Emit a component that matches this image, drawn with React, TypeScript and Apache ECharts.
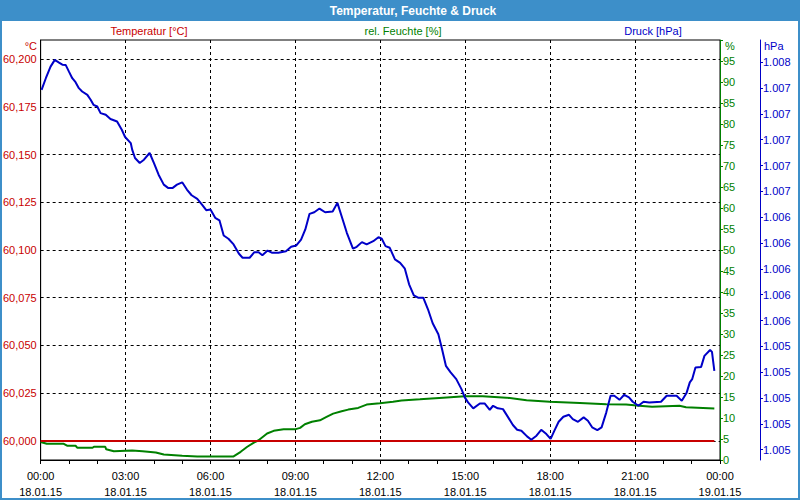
import React, { useEffect, useRef } from "react";
import * as echarts from "echarts";

const chartTitle = "Temperatur, Feuchte & Druck";
const seriesNames = ["Temperatur [°C]", "rel. Feuchte [%]", "Druck [hPa]"];
const unitLabels = ["°C", "%", "hPa"];
const startDate = "18.01.15";
const endDate = "19.01.15";

const temperatureTimes = ["00:00", "23:48"];
const temperatureValues = [60.0, 60.0];

const humidityTimes = [
  "00:00", "00:13", "00:49", "00:56", "01:14", "01:18", "01:50", "01:53", "02:17", "02:19",
  "02:35", "03:14", "03:36", "04:04", "04:21", "05:00", "05:32", "06:49", "07:04", "07:18",
  "07:32", "07:42", "08:00", "08:14", "08:35", "08:59", "09:10", "09:20", "09:35", "09:52",
  "10:06", "10:20", "10:38", "10:52", "11:13", "11:31", "11:59", "12:27", "12:45", "13:24",
  "14:13", "14:59", "15:37", "16:27", "17:10", "17:59", "19:03", "19:59", "20:41", "21:09",
  "21:36", "22:34", "22:48", "23:48",
];
const humidityValues = [
  4.3, 3.85, 3.85, 3.4, 3.4, 2.9, 2.9, 3.15, 3.15, 2.55,
  2.1, 2.25, 2.1, 1.8, 1.3, 1.0, 0.85, 0.85, 1.95, 3.15,
  4.15, 4.7, 6.3, 6.95, 7.3, 7.3, 7.65, 8.5, 9.1, 9.45,
  10.25, 11.05, 11.6, 12.0, 12.4, 13.2, 13.5, 13.85, 14.15, 14.45,
  14.85, 15.15, 15.15, 14.85, 14.2, 13.85, 13.6, 13.25, 13.2, 12.9,
  12.65, 12.9, 12.55, 12.25,
];

const pressureTimes = [
  "00:02", "00:11", "00:21", "00:30", "00:39", "00:46", "00:53", "01:00", "01:07", "01:14",
  "01:21", "01:28", "01:39", "01:46", "01:52", "02:00", "02:07", "02:18", "02:28", "02:42",
  "02:52", "02:59", "03:11", "03:14", "03:20", "03:30", "03:39", "03:51", "04:00", "04:10",
  "04:21", "04:30", "04:40", "04:49", "05:00", "05:10", "05:20", "05:32", "05:42", "05:51",
  "06:00", "06:10", "06:19", "06:28", "06:38", "06:49", "07:00", "07:08", "07:23", "07:33",
  "07:42", "07:50", "08:01", "08:10", "08:24", "08:40", "08:51", "09:02", "09:12", "09:21",
  "09:30", "09:40", "09:51", "10:03", "10:19", "10:29", "10:38", "10:49", "11:02", "11:10",
  "11:21", "11:31", "11:45", "11:56", "12:03", "12:11", "12:20", "12:31", "12:42", "12:52",
  "13:01", "13:11", "13:20", "13:31", "13:41", "13:51", "14:03", "14:10", "14:19", "14:29",
  "14:41", "14:52", "14:59", "15:06", "15:17", "15:31", "15:41", "15:52", "15:59", "16:09",
  "16:20", "16:31", "16:41", "16:50", "16:59", "17:11", "17:20", "17:31", "17:41", "17:52",
  "18:01", "18:09", "18:18", "18:28", "18:40", "18:48", "18:59", "19:11", "19:20", "19:29",
  "19:40", "19:49", "19:59", "20:08", "20:16", "20:27", "20:37", "20:47", "20:55", "21:07",
  "21:18", "21:30", "21:55", "22:07", "22:28", "22:39", "22:49", "22:56", "23:01", "23:08",
  "23:20", "23:27", "23:39", "23:43", "23:48",
];
const pressureValues = [
  1007.386, 1007.476, 1007.566, 1007.618, 1007.597, 1007.581, 1007.579, 1007.527, 1007.476, 1007.445,
  1007.399, 1007.373, 1007.347, 1007.309, 1007.27, 1007.257, 1007.206, 1007.193, 1007.16, 1007.141,
  1007.077, 1007.021, 1006.974, 1006.923, 1006.858, 1006.82, 1006.845, 1006.897, 1006.82, 1006.729,
  1006.652, 1006.627, 1006.627, 1006.652, 1006.67, 1006.614, 1006.57, 1006.542, 1006.498, 1006.454,
  1006.459, 1006.395, 1006.376, 1006.258, 1006.233, 1006.189, 1006.119, 1006.086, 1006.086, 1006.129,
  1006.129, 1006.106, 1006.142, 1006.125, 1006.125, 1006.137, 1006.171, 1006.181, 1006.227, 1006.305,
  1006.426, 1006.438, 1006.467, 1006.438, 1006.444, 1006.511, 1006.407, 1006.279, 1006.156, 1006.171,
  1006.207, 1006.189, 1006.214, 1006.245, 1006.233, 1006.176, 1006.163, 1006.073, 1006.047, 1006.001,
  1005.88, 1005.795, 1005.777, 1005.777, 1005.687, 1005.579, 1005.494, 1005.391, 1005.249, 1005.198,
  1005.146, 1005.069, 1005.005, 1004.966, 1004.92, 1004.958, 1004.958, 1004.909, 1004.94, 1004.92,
  1004.914, 1004.85, 1004.791, 1004.754, 1004.747, 1004.703, 1004.677, 1004.708, 1004.754, 1004.721,
  1004.683, 1004.747, 1004.816, 1004.855, 1004.87, 1004.837, 1004.816, 1004.85, 1004.824, 1004.773,
  1004.752, 1004.773, 1004.889, 1005.017, 1005.017, 1004.986, 1005.025, 1005.005, 1004.971, 1004.94,
  1004.971, 1004.966, 1004.971, 1005.017, 1005.017, 1004.978, 1005.038, 1005.121, 1005.146, 1005.236,
  1005.241, 1005.326, 1005.372, 1005.357, 1005.21,
];

const temperatureTicks = [60.0, 60.025, 60.05, 60.075, 60.1, 60.125, 60.15, 60.175, 60.2];
const pressureTicks = [
  1004.6, 1004.8, 1005.0, 1005.2, 1005.4, 1005.6, 1005.8, 1006.0,
  1006.2, 1006.4, 1006.6, 1006.8, 1007.0, 1007.2, 1007.4, 1007.6,
];

const FONT = '"Liberation Sans", Arial, sans-serif';
const RED = "#C80000";
const GREEN = "#008000";
const BLUE = "#0000C8";
const FRAME = "#3D8FC9";

const toHours = (t: string) => {
  const [h, m] = t.split(":").map(Number);
  return h + m / 60;
};
const pairs = (times: string[], values: number[]) => times.map((t, i) => [toHours(t), values[i]]);
const pad = (n: number) => String(n).padStart(2, "0");

export default function App() {
  const ref = useRef<HTMLDivElement>(null);
  useEffect(() => {
    if (!ref.current) return;
    const chart = echarts.init(ref.current, undefined, { renderer: "svg" });
    const dash = { color: "#000", width: 1, type: [3, 3] as any };
    chart.setOption({
      animation: false,
      backgroundColor: "#FFFFFF",
      textStyle: { fontFamily: FONT },
      grid: {
        left: 40, right: 80, top: 40, bottom: 39,
        show: true, borderColor: "#000", borderWidth: 1, backgroundColor: "#FFFFFF",
      },
      xAxis: {
        type: "value", min: 0, max: 24, interval: 3,
        axisLine: { show: true, lineStyle: { color: "#000", width: 1 } },
        axisTick: { show: true, length: 4, lineStyle: { color: "#000" } },
        minorTick: { show: true, splitNumber: 3, length: 4, lineStyle: { color: "#000" } },
        splitLine: { show: true, lineStyle: dash },
        axisLabel: {
          showMinLabel: true, showMaxLabel: true,
          color: "#000", fontSize: 11, fontFamily: FONT, lineHeight: 16, margin: 8,
          formatter: (v: number) => `${pad(v % 24)}:00\n${v >= 24 ? endDate : startDate}`,
        },
      },
      yAxis: [
        {
          type: "value", position: "left", min: 59.99, max: 60.21,
          axisLine: { show: true, lineStyle: { color: "#000" } },
          axisTick: { show: false, customValues: temperatureTicks },
          axisLabel: {
            customValues: temperatureTicks, color: RED, fontSize: 11, fontFamily: FONT, margin: 4,
            formatter: (v: number) => v.toFixed(3).replace(".", ","),
          },
          splitLine: { show: true, lineStyle: dash },
        },
        {
          type: "value", position: "right", min: 0, max: 100, interval: 5,
          axisLine: { show: true, lineStyle: { color: GREEN } },
          axisTick: { show: true, length: 3, lineStyle: { color: GREEN } },
          axisLabel: {
            color: GREEN, fontSize: 11, fontFamily: FONT, margin: 3,
            formatter: (v: number) => (v >= 100 ? "" : String(v)),
          },
          splitLine: { show: false },
        },
        {
          type: "value", position: "right", offset: 40, min: 1004.52, max: 1007.772,
          axisLine: { show: true, lineStyle: { color: BLUE } },
          axisTick: { show: true, length: 3, customValues: pressureTicks, lineStyle: { color: BLUE } },
          axisLabel: {
            customValues: pressureTicks, color: BLUE, fontSize: 11, fontFamily: FONT, margin: 3,
            formatter: (v: number) => {
              const r = Math.round(v);
              return `${Math.floor(r / 1000)}.${String(r % 1000).padStart(3, "0")}`;
            },
          },
          splitLine: { show: false },
        },
      ],
      graphic: [
        { type: "rect", shape: { x: 0, y: 0, width: 800, height: 21 }, style: { fill: FRAME }, z: 10 },
        { type: "rect", shape: { x: 1, y: 1, width: 798, height: 498 }, style: { fill: "none", stroke: FRAME, lineWidth: 2 }, z: 10 },
        {
          type: "text", x: 413, y: 11, z: 11,
          style: { text: chartTitle, fill: "#FFFFFF", font: `bold 12px ${FONT}`, align: "center", verticalAlign: "middle" },
        },
        { type: "text", x: 149, y: 31, z: 11, style: { text: seriesNames[0], fill: RED, font: `11px ${FONT}`, align: "center", verticalAlign: "middle" } },
        { type: "text", x: 403, y: 31, z: 11, style: { text: seriesNames[1], fill: GREEN, font: `11px ${FONT}`, align: "center", verticalAlign: "middle" } },
        { type: "text", x: 653, y: 31, z: 11, style: { text: seriesNames[2], fill: BLUE, font: `11px ${FONT}`, align: "center", verticalAlign: "middle" } },
        { type: "text", x: 37, y: 46, z: 11, style: { text: unitLabels[0], fill: RED, font: `11px ${FONT}`, align: "right", verticalAlign: "middle" } },
        { type: "text", x: 725, y: 46, z: 11, style: { text: unitLabels[1], fill: GREEN, font: `11px ${FONT}`, align: "left", verticalAlign: "middle" } },
        { type: "text", x: 764, y: 46, z: 11, style: { text: unitLabels[2], fill: BLUE, font: `11px ${FONT}`, align: "left", verticalAlign: "middle" } },
      ],
      series: [
        {
          name: seriesNames[1], type: "line", yAxisIndex: 1, symbol: "none",
          lineStyle: { color: GREEN, width: 2 }, data: pairs(humidityTimes, humidityValues),
        },
        {
          name: seriesNames[0], type: "line", yAxisIndex: 0, symbol: "none",
          lineStyle: { color: RED, width: 2 }, data: pairs(temperatureTimes, temperatureValues),
        },
        {
          name: seriesNames[2], type: "line", yAxisIndex: 2, symbol: "none",
          lineStyle: { color: BLUE, width: 2 }, data: pairs(pressureTimes, pressureValues),
        },
      ],
    });
    return () => chart.dispose();
  }, []);
  return <div ref={ref} style={{ position: "absolute", left: 0, top: 0, width: 800, height: 500 }} />;
}
